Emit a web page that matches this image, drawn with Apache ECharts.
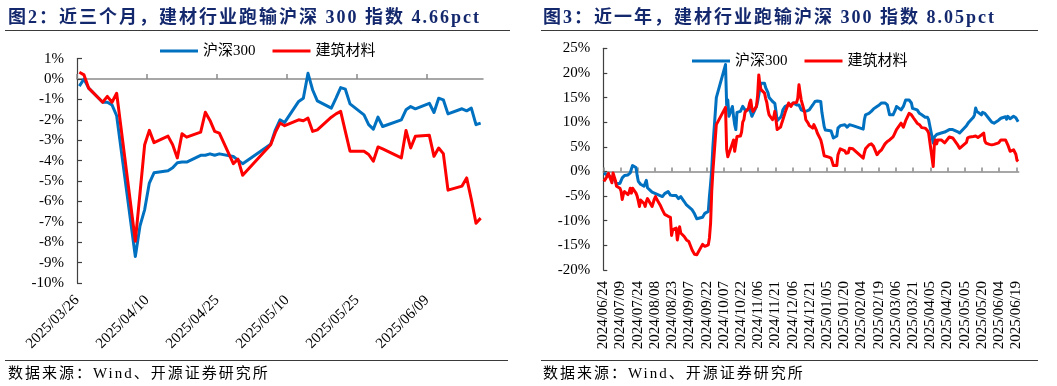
<!DOCTYPE html>
<html><head><meta charset="utf-8">
<script src="https://cdn.jsdelivr.net/npm/echarts@6/dist/echarts.min.js"></script>
<style>
html,body{margin:0;padding:0;background:#fff;}
#wrap{position:relative;width:1057px;height:386px;overflow:hidden;background:#fff;}
#c{position:absolute;left:0;top:0;width:1057px;height:386px;}
.t{position:absolute;white-space:nowrap;font-family:"Liberation Serif","Noto Sans CJK SC",serif;}
.title{font-size:18px;font-weight:bold;color:#14286e;letter-spacing:2px;line-height:21px;}
.src{font-size:15px;color:#000;letter-spacing:2px;line-height:18px;}
.rule{position:absolute;height:0;border-top:1.5px solid #3a3a3a;}
</style></head>
<body>
<div id="wrap">
  <div id="c"></div>
  <div class="t title" style="left:8px;top:7px;">图2：近三个月，建材行业跑输沪深 300 指数 4.66pct</div>
  <div class="t title" style="left:543px;top:7px;">图3：近一年，建材行业跑输沪深 300 指数 8.05pct</div>
  <div class="rule" style="left:5px;top:30px;width:505px;"></div>
  <div class="rule" style="left:541px;top:30px;width:497px;"></div>
  <div class="rule" style="left:5px;top:359.5px;width:503px;"></div>
  <div class="rule" style="left:541px;top:359.5px;width:497px;"></div>
  <div class="t src" style="left:8px;top:363.5px;">数据来源：Wind、开源证券研究所</div>
  <div class="t src" style="left:543px;top:363.5px;">数据来源：Wind、开源证券研究所</div>
</div>
<script>
// ---------- Chart 2: last three months ----------
const start3m = '2025-03-26';
const axisEnd3m = '2025-06-21';
const tickDates3m = ['2025-03-26','2025-04-10','2025-04-25','2025-05-10','2025-05-25','2025-06-09'];
const dates3m = ['2025-03-26','2025-03-27','2025-03-28','2025-03-31','2025-04-01','2025-04-02','2025-04-03','2025-04-07','2025-04-08','2025-04-09',
 '2025-04-10','2025-04-11','2025-04-14','2025-04-15','2025-04-16','2025-04-17','2025-04-18','2025-04-21','2025-04-22','2025-04-23',
 '2025-04-24','2025-04-25','2025-04-28','2025-04-29','2025-04-30','2025-05-06','2025-05-07','2025-05-08','2025-05-09','2025-05-12',
 '2025-05-13','2025-05-14','2025-05-15','2025-05-16','2025-05-19','2025-05-20','2025-05-21','2025-05-22','2025-05-23','2025-05-26',
 '2025-05-27','2025-05-28','2025-05-29','2025-05-30','2025-06-03','2025-06-04','2025-06-05','2025-06-06','2025-06-09','2025-06-10',
 '2025-06-11','2025-06-12','2025-06-13','2025-06-16','2025-06-17','2025-06-18','2025-06-19','2025-06-20'];
const hs300_3m = [-0.35,0.0,-0.45,-1.14,-1.14,-1.27,-1.8,-8.7,-7.2,-6.4,
 -5.1,-4.6,-4.5,-4.35,-4.1,-4.07,-4.07,-3.74,-3.74,-3.67,
 -3.74,-3.67,-3.8,-3.98,-4.15,-3.2,-2.5,-2.0,-2.13,-1.1,
 -0.94,0.28,-0.54,-1.07,-1.43,-0.94,-0.42,-0.5,-1.22,-1.76,
 -2.24,-2.46,-1.87,-2.33,-2.0,-1.51,-1.35,-1.46,-1.19,-1.64,
 -0.94,-1.02,-1.71,-1.46,-1.56,-1.43,-2.24,-2.16];
const jc_3m = [0.33,0.2,-0.45,-1.14,-0.85,-1.14,-0.7,-7.95,-5.6,-3.22,
 -2.52,-3.12,-2.8,-3.22,-3.87,-2.68,-2.85,-2.6,-1.63,-2.03,
 -2.57,-2.65,-4.15,-3.93,-4.72,-3.22,-2.62,-2.16,-2.29,-2.0,
 -2.05,-1.92,-2.57,-2.49,-1.87,-1.71,-1.59,-2.57,-3.54,-3.54,
 -3.7,-4.03,-3.33,-3.43,-3.87,-2.52,-3.38,-2.81,-2.76,-3.79,
 -3.38,-3.66,-5.45,-5.25,-4.85,-5.9,-7.07,-6.82];

// ---------- Chart 3: last year ----------
const start1y = '2024-06-24';
const axisEnd1y = '2025-06-21';
const tickDates1y = ['2024-06-24','2024-07-09','2024-07-24','2024-08-08','2024-08-23','2024-09-07','2024-09-22','2024-10-07','2024-10-22',
 '2024-11-06','2024-11-21','2024-12-06','2024-12-21','2025-01-05','2025-01-20','2025-02-04','2025-02-19','2025-03-06','2025-03-21',
 '2025-04-05','2025-04-20','2025-05-05','2025-05-20','2025-06-04','2025-06-19'];
const dates1y = [
 '2024-06-24','2024-06-26','2024-06-28','2024-07-01','2024-07-02','2024-07-04','2024-07-05','2024-07-08','2024-07-09','2024-07-10',
 '2024-07-11','2024-07-12','2024-07-15','2024-07-16','2024-07-17','2024-07-18','2024-07-19','2024-07-22','2024-07-23','2024-07-24',
 '2024-07-25','2024-07-26','2024-07-29','2024-07-30','2024-07-31','2024-08-01','2024-08-02','2024-08-05','2024-08-06','2024-08-07',
 '2024-08-08','2024-08-09','2024-08-12','2024-08-14','2024-08-16','2024-08-19','2024-08-21','2024-08-22','2024-08-23','2024-08-26',
 '2024-08-27','2024-08-28','2024-08-29','2024-08-30','2024-09-02','2024-09-04','2024-09-06','2024-09-09','2024-09-11','2024-09-13',
 '2024-09-18','2024-09-19','2024-09-20','2024-09-23','2024-09-24','2024-09-25','2024-09-26','2024-09-27','2024-09-30','2024-10-08',
 '2024-10-09','2024-10-10','2024-10-11','2024-10-14','2024-10-15','2024-10-16','2024-10-17','2024-10-18','2024-10-21','2024-10-22',
 '2024-10-23','2024-10-24','2024-10-25','2024-10-28','2024-10-29','2024-10-30','2024-10-31','2024-11-01','2024-11-04','2024-11-05',
 '2024-11-06','2024-11-07','2024-11-08','2024-11-11','2024-11-12','2024-11-13','2024-11-14','2024-11-15','2024-11-18','2024-11-19',
 '2024-11-20','2024-11-21','2024-11-22','2024-11-25','2024-11-26','2024-11-27','2024-11-29','2024-12-02','2024-12-04','2024-12-06',
 '2024-12-09','2024-12-10','2024-12-11','2024-12-12','2024-12-13','2024-12-16','2024-12-17','2024-12-18','2024-12-19','2024-12-20',
 '2024-12-23','2024-12-24','2024-12-25','2024-12-26','2024-12-27','2024-12-30','2024-12-31','2025-01-02','2025-01-03','2025-01-06',
 '2025-01-07','2025-01-08','2025-01-09','2025-01-10','2025-01-13','2025-01-14','2025-01-15','2025-01-16','2025-01-17','2025-01-20',
 '2025-01-21','2025-01-22','2025-01-23','2025-01-24','2025-01-27','2025-02-05','2025-02-06','2025-02-07','2025-02-10','2025-02-12',
 '2025-02-14','2025-02-17','2025-02-18','2025-02-19','2025-02-20','2025-02-21','2025-02-24','2025-02-25','2025-02-26','2025-02-27',
 '2025-02-28','2025-03-03','2025-03-04','2025-03-05','2025-03-06','2025-03-07','2025-03-10','2025-03-11','2025-03-12','2025-03-13',
 '2025-03-14','2025-03-17','2025-03-18','2025-03-19','2025-03-20','2025-03-21','2025-03-24','2025-03-26','2025-03-28','2025-03-31',
 '2025-04-01','2025-04-02','2025-04-03','2025-04-07','2025-04-08','2025-04-09','2025-04-10','2025-04-11','2025-04-14','2025-04-15',
 '2025-04-17','2025-04-18','2025-04-21','2025-04-22','2025-04-24','2025-04-25','2025-04-28','2025-04-30','2025-05-06','2025-05-07',
 '2025-05-08','2025-05-09','2025-05-12','2025-05-13','2025-05-14','2025-05-15','2025-05-16','2025-05-19','2025-05-20','2025-05-21',
 '2025-05-22','2025-05-23','2025-05-26','2025-05-27','2025-05-28','2025-05-29','2025-05-30','2025-06-03','2025-06-04','2025-06-05',
 '2025-06-06','2025-06-09','2025-06-10','2025-06-11','2025-06-12','2025-06-13','2025-06-16','2025-06-17','2025-06-18','2025-06-19',
 '2025-06-20'];
const hs300_1y = [
 -0.3,-0.6,-0.9,-1.2,-1.5,-2.0,-2.6,-2.4,-2.0,-1.3,
 -1.0,-0.8,-0.7,-0.5,-0.3,0.5,1.2,0.8,-0.8,-2.0,
 -2.4,-2.6,-3.0,-3.4,-1.8,-3.3,-3.6,-4.2,-4.0,-4.4,
 -4.5,-4.6,-4.9,-5.1,-4.5,-4.1,-4.8,-4.9,-4.9,-4.9,
 -5.2,-5.5,-5.8,-5.1,-6.1,-6.8,-7.2,-7.8,-8.6,-9.6,
 -9.3,-9.0,-8.5,-8.1,-5.0,-2.5,0.5,5.0,15.0,21.7,
 13.5,14.5,11.2,13.2,11.2,9.5,8.5,12.0,12.2,12.5,
 13.2,12.8,12.5,12.5,13.2,12.0,11.2,11.2,13.2,14.2,
 15.5,17.0,17.9,17.9,17.0,16.9,16.0,15.0,14.2,14.2,
 13.8,12.2,10.3,11.0,11.5,12.5,13.2,13.5,13.5,13.9,
 13.5,13.9,13.5,13.5,12.5,12.2,12.2,12.3,12.5,12.5,
 13.5,13.9,14.2,14.2,14.3,14.2,12.0,9.1,8.4,8.3,
 8.5,8.2,7.8,6.8,7.2,8.8,9.0,9.3,9.5,9.5,
 9.8,9.0,9.3,9.5,9.3,8.6,10.5,11.5,11.8,12.2,
 12.7,13.2,12.9,13.5,13.9,13.9,13.9,13.8,13.5,13.2,
 11.5,11.5,12.0,12.5,13.2,13.0,12.5,12.8,13.2,13.5,
 14.5,14.5,14.6,13.9,12.8,12.5,12.5,11.8,11.5,11.0,
 11.3,11.0,10.5,5.8,7.0,7.2,7.5,7.4,7.8,7.9,
 8.0,8.2,8.5,8.5,8.5,8.4,8.1,7.8,9.3,9.6,
 10.0,10.1,11.0,11.5,12.9,12.2,11.8,11.5,12.0,12.2,
 11.8,11.5,10.6,10.3,10.0,9.9,9.8,10.4,10.6,10.8,
 10.9,11.1,10.6,11.2,11.0,10.7,11.2,11.0,10.9,10.7,
 10.1];
const jc_1y = [
 -2.0,-1.3,-0.4,-2.3,-0.3,-1.8,-3.0,-3.4,-4.0,-5.7,
 -4.6,-4.1,-4.7,-4.2,-3.4,-4.4,-3.4,-4.4,-5.0,-6.0,
 -7.1,-5.8,-6.5,-7.1,-6.1,-5.5,-5.1,-7.1,-7.0,-5.6,
 -5.1,-5.6,-6.8,-7.8,-8.7,-9.1,-9.3,-13.0,-11.8,-11.5,
 -13.9,-12.5,-11.2,-12.5,-13.2,-13.9,-14.2,-16.0,-16.8,-16.9,
 -14.8,-15.0,-15.2,-14.9,-13.5,-10.5,-4.0,0.0,9.5,13.0,
 4.5,3.0,2.7,5.7,6.4,4.1,4.5,7.1,7.2,8.0,
 10.0,10.5,12.0,12.8,13.9,14.5,12.8,12.2,13.2,15.5,
 19.6,17.5,16.6,15.9,14.8,14.0,12.5,11.5,10.5,11.0,
 12.2,10.5,8.5,9.0,9.8,10.5,12.0,13.9,13.2,13.9,
 14.0,14.9,17.6,16.0,14.5,12.0,10.5,10.1,9.8,9.3,
 8.8,9.5,9.2,8.5,7.8,6.4,5.5,3.2,3.0,2.9,
 3.3,2.7,2.0,1.2,1.2,3.4,4.0,4.6,5.0,4.2,
 3.7,3.4,3.8,4.7,4.6,2.7,3.8,4.6,5.4,5.6,
 5.1,3.4,3.6,4.0,4.4,4.4,5.6,5.8,6.1,6.3,
 6.4,7.0,7.5,8.0,8.5,8.8,9.8,9.5,9.0,9.2,
 10.3,11.8,11.9,11.5,11.2,10.8,9.8,9.5,8.9,8.8,
 8.6,8.3,7.8,1.0,5.5,6.4,5.6,6.4,6.4,6.0,
 5.8,6.2,7.0,7.2,6.8,6.5,5.5,4.7,5.9,6.8,
 6.9,7.0,7.1,7.0,7.2,6.8,6.9,7.4,7.6,7.8,
 6.2,5.75,5.5,5.3,5.4,5.3,5.5,5.8,6.0,6.4,
 6.3,6.4,6.1,5.4,5.0,4.1,4.4,4.6,3.5,2.3,
 2.05];

const seriesNames = ['沪深300','建筑材料'];
const colors = ['#0070C0','#FF0000'];

function utc(s){ const p = s.split('-'); return Date.UTC(+p[0], +p[1]-1, +p[2]); }
function dayOf(s, base){ return Math.round((utc(s) - utc(base)) / 86400000); }
function fmt(base, n){
  const d = new Date(utc(base) + Math.round(n) * 86400000);
  return d.getUTCFullYear() + '/' + String(d.getUTCMonth()+1).padStart(2,'0') + '/' + String(d.getUTCDate()).padStart(2,'0');
}
// each trading day is drawn at the middle of its day slot
function pts(dates, vals, base){ return dates.map((d,i) => [dayOf(d, base) + 0.5, vals[i]]); }

const ticks3m = tickDates3m.map(d => dayOf(d, start3m));
const ticks1y = tickDates1y.map(d => dayOf(d, start1y));
const end3m = dayOf(axisEnd3m, start3m);
const end1y = dayOf(axisEnd1y, start1y);

const serifFont = '"Liberation Serif","Times New Roman",serif';
const legendFont = '"Liberation Serif","Noto Sans CJK SC",serif';
const xGray = '#8a8a8a';
const yDark = '#404040';

function zeroAxis(grid, max, ticks, tickLen){
  return {gridIndex:grid, type:'value', min:0, max:max, position:'bottom',
    axisLine:{show:true, onZero:true, lineStyle:{color:xGray, width:1.5}},
    axisTick:{show:true, inside:true, length:tickLen, customValues:ticks, lineStyle:{color:xGray, width:1.5}},
    axisLabel:{show:false}, splitLine:{show:false}};
}
function labelAxis(grid, max, ticks, base, rot, margin){
  return {gridIndex:grid, type:'value', min:0, max:max, position:'bottom',
    axisLine:{show:false, onZero:false}, axisTick:{show:false}, splitLine:{show:false},
    axisLabel:{show:true, customValues:ticks, rotate:rot, margin:margin,
      formatter: v => fmt(base, v), fontFamily:serifFont, fontSize:15, color:'#000'}};
}
function yAx(grid, min, max, interval, tickLen){
  return {gridIndex:grid, type:'value', min:min, max:max, interval:interval,
    axisLine:{show:true, onZero:false, lineStyle:{color:yDark, width:1.2}},
    axisTick:{show:true, inside:true, length:tickLen, lineStyle:{color:yDark, width:1.2}},
    axisLabel:{formatter:'{value}%', margin:13, fontFamily:serifFont, fontSize:15, color:'#000'},
    splitLine:{show:false}};
}
function line(name, color, xi, yi, data){
  return {type:'line', name:name, xAxisIndex:xi, yAxisIndex:yi, data:data,
    showSymbol:false, symbol:'none', animation:false, clip:true,
    lineStyle:{color:color, width:3, join:'round'}, itemStyle:{color:color}};
}
function legend(left, top){
  return {left:left, top:top, data:seriesNames, icon:'rect', itemWidth:38, itemHeight:3, itemGap:17,
    selectedMode:false, textStyle:{fontFamily:legendFont, fontSize:15, color:'#000'}};
}

const chart = echarts.init(document.getElementById('c'), null, {renderer:'canvas', width:1057, height:386});
chart.setOption({
  backgroundColor:'transparent',
  animation:false,
  grid:[
    {left:77, top:58.6, width:406, height:224.4, containLabel:false, outerBoundsMode:'none'},
    {left:603.3, top:48.3, width:415.4, height:221.7, containLabel:false, outerBoundsMode:'none'}
  ],
  legend:[legend(155, 38.5), legend(687, 48.5)],
  xAxis:[
    zeroAxis(0, end3m, ticks3m, 5),
    labelAxis(0, end3m, ticks3m, start3m, 45, 15),
    zeroAxis(1, end1y, ticks1y, 4),
    labelAxis(1, end1y, ticks1y, start1y, 90, 11)
  ],
  yAxis:[ yAx(0, -10, 1, 1, 5), yAx(1, -20, 25, 5, 4) ],
  series:[
    line(seriesNames[0], colors[0], 0, 0, pts(dates3m, hs300_3m, start3m)),
    line(seriesNames[1], colors[1], 0, 0, pts(dates3m, jc_3m, start3m)),
    line(seriesNames[0], colors[0], 2, 1, pts(dates1y, hs300_1y, start1y)),
    line(seriesNames[1], colors[1], 2, 1, pts(dates1y, jc_1y, start1y))
  ]
});
</script>
</body></html>
